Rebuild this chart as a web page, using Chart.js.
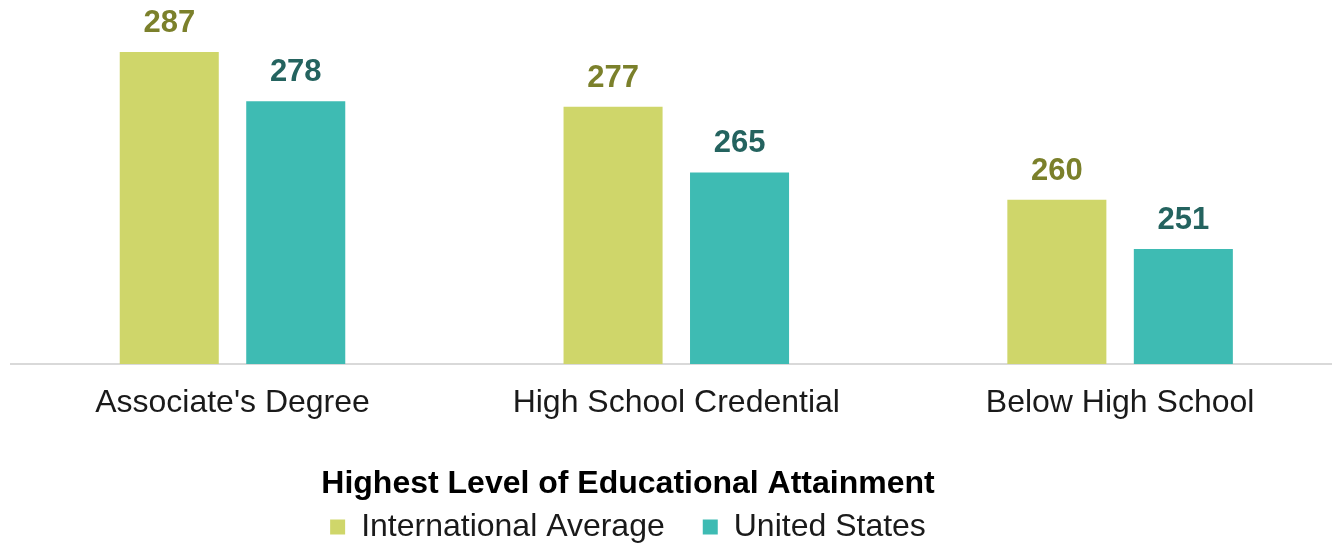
<!DOCTYPE html>
<html>
<head>
<meta charset="utf-8">
<script src="https://cdn.jsdelivr.net/npm/chart.js@4/dist/chart.umd.min.js"></script>
<style>
  html, body { margin: 0; padding: 0; background: #fff; overflow: hidden; }
  body { width: 1332px; height: 544px; position: relative; }
  #wrap { position: absolute; left: -86px; top: 0; width: 1430px; height: 553px; }
</style>
</head>
<body>
<div id="wrap"><canvas id="chart"></canvas></div>
<script>
const CATEGORIES = ["Associate's Degree", 'High School Credential', 'Below High School'];
const SERIES_NAMES = ['International Average', 'United States'];
const INTL_AVG = [287, 277, 260];
const UNITED_STATES = [278, 265, 251];
const X_TITLE = 'Highest Level of Educational Attainment';

const BAR_COLORS = ['#cfd66a', '#3ebbb3'];
const LABEL_COLORS = ['#7b802b', '#24635f'];

Chart.defaults.font.family = "'Liberation Sans', Arial, sans-serif";
Chart.defaults.color = '#1a1a1a';

// value labels above each bar
const valueLabels = {
  id: 'valueLabels',
  afterDatasetsDraw(chart) {
    const ctx = chart.ctx;
    chart.data.datasets.forEach((ds, i) => {
      chart.getDatasetMeta(i).data.forEach((bar, j) => {
        ctx.save();
        ctx.font = "bold 31px 'Liberation Sans', Arial, sans-serif";
        ctx.fillStyle = LABEL_COLORS[i];
        ctx.textAlign = 'center';
        ctx.textBaseline = 'alphabetic';
        ctx.fillText(ds.data[j], bar.x, bar.y - 20);
        ctx.restore();
      });
    });
  }
};

new Chart(document.getElementById('chart'), {
  type: 'bar',
  data: {
    labels: CATEGORIES,
    datasets: [
      { label: SERIES_NAMES[0], data: INTL_AVG, backgroundColor: BAR_COLORS[0], borderWidth: 0 },
      { label: SERIES_NAMES[1], data: UNITED_STATES, backgroundColor: BAR_COLORS[1], borderWidth: 0 }
    ]
  },
  options: {
    responsive: true,
    maintainAspectRatio: false,
    animation: false,
    categoryPercentage: 0.57,
    barPercentage: 0.783,
    layout: { padding: { top: 0, right: 2, bottom: 0, left: 0 } },
    plugins: {
      tooltip: { enabled: false },
      legend: {
        position: 'bottom',
        align: 'center',
        title: {
          display: true,
          text: X_TITLE,
          color: '#000',
          font: { size: 32, weight: 'bold', lineHeight: 1 },
          padding: { top: 0, bottom: -27 }
        },
        labels: {
          boxWidth: 15,
          boxHeight: 15,
          padding: 38,
          color: '#1a1a1a',
          font: { size: 32 }
        }
      }
    },
    scales: {
      x: {
        grid: { display: false, drawTicks: false },
        border: { display: true, color: '#d9d9d9', width: 2 },
        ticks: { padding: 20, font: { size: 32 }, color: '#1a1a1a', maxRotation: 0 },
        afterFit: s => { s.height = 104; }
      },
      y: {
        min: 230,
        max: 296.5,
        grid: { display: false, drawTicks: false },
        border: { display: false },
        ticks: { display: false },
        afterFit: s => { s.width = 96.6; }
      }
    }
  },
  plugins: [valueLabels]
});
</script>
</body>
</html>
